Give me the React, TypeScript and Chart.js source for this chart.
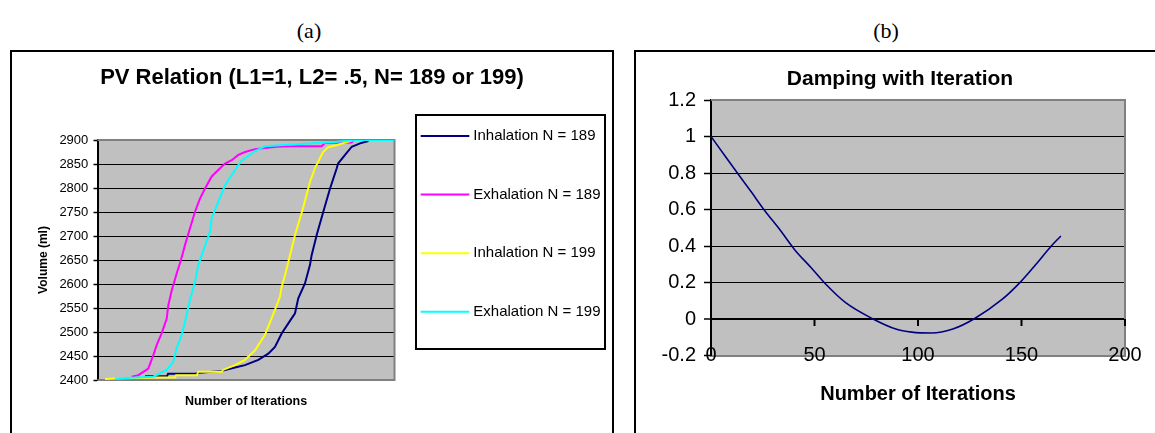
import React, { useEffect, useRef } from "react";
import { Chart, registerables } from "chart.js";

Chart.register(...registerables);

const SANS = "'Liberation Sans', Arial, sans-serif";
const SERIF = "'Liberation Serif', 'Times New Roman', serif";

// ---------- Chart (a): PV relation ----------
const pvTitle = "PV Relation (L1=1, L2= .5, N= 189 or 199)";
const pvXTitle = "Number of Iterations";
const pvYTitle = "Volume (ml)";
const seriesLabels = ["Inhalation N = 189", "Exhalation N = 189", "Inhalation N = 199", "Exhalation N = 199"];
const seriesColors = ["#000080", "#FF00FF", "#FFFF00", "#00FFFF"];
const volumeTicks = [2400, 2450, 2500, 2550, 2600, 2650, 2700, 2750, 2800, 2850, 2900];
const iterMin = 0;
const iterMax = 200;

const inh189X = [32.0, 46.8, 47.5, 65.7, 69.0, 83.8, 92.6, 99.3, 108.3, 115.0, 119.5, 124.0, 128.5, 133.0, 135.2, 139.7, 143.1, 144.2, 147.6, 152.1, 156.6, 161.1, 162.0, 166.7, 171.2, 176.8, 182.4];
const inh189Y = [2408, 2408, 2413, 2413, 2415, 2419, 2426, 2431, 2442, 2455, 2469, 2497, 2518, 2539, 2570, 2601, 2640, 2660, 2702, 2751, 2799, 2841, 2851, 2869, 2886, 2893, 2898];

const exh189X = [23.0, 27.5, 34.2, 37.6, 39.9, 43.2, 46.6, 47.7, 50.0, 53.3, 56.2, 58.9, 62.3, 65.7, 69.0, 72.4, 76.9, 82.5, 85.9, 90.4, 94.8, 99.3, 106.1, 120.7, 129.6, 151.0, 153.2, 171.2, 172.3];
const exh189Y = [2407, 2410, 2424, 2452, 2473, 2497, 2528, 2556, 2587, 2622, 2650, 2681, 2716, 2751, 2778, 2799, 2824, 2841, 2851, 2858, 2869, 2875, 2881, 2886, 2887, 2887, 2894, 2895, 2900];

const inh199X = [5.1, 11.8, 37.4, 52.2, 52.9, 67.0, 67.7, 83.8, 84.5, 92.6, 99.3, 106.1, 112.8, 115.0, 119.5, 122.9, 124.0, 126.3, 129.6, 133.0, 138.4, 143.1, 146.5, 151.9, 155.3, 162.0, 172.3];
const inh199Y = [2402, 2403, 2405, 2405, 2410, 2410, 2417, 2417, 2421, 2431, 2442, 2462, 2494, 2511, 2546, 2574, 2594, 2619, 2660, 2702, 2758, 2813, 2842, 2875, 2885, 2890, 2900];

const exh199X = [11.8, 37.6, 46.6, 51.0, 53.3, 56.7, 58.9, 62.3, 65.7, 67.9, 70.2, 72.4, 75.8, 76.9, 81.3, 85.9, 90.4, 94.8, 97.1, 106.1, 112.8, 128.3, 159.9, 173.4, 200.0];
const exh199Y = [2403, 2407, 2421, 2438, 2466, 2494, 2521, 2567, 2605, 2640, 2660, 2680, 2709, 2737, 2771, 2806, 2827, 2848, 2857, 2877, 2887, 2890, 2896, 2900, 2900];

// ---------- Chart (b): damping ----------
const dampTitle = "Damping with Iteration";
const dampXTitle = "Number of Iterations";
const dampX = [0, 6.7, 13.1, 19.6, 26.0, 33.2, 40.4, 48.4, 55.6, 65.2, 77.8, 89.3, 97.0, 106.6, 116.8, 127.0, 140.6, 149.1, 157.0, 164.4, 169.0];
const dampY = [1.0, 0.895, 0.795, 0.694, 0.593, 0.49, 0.38, 0.281, 0.189, 0.088, 0.003, -0.055, -0.072, -0.077, -0.055, 0.0, 0.107, 0.198, 0.3, 0.4, 0.455];
const dampYTicks = [-0.2, 0, 0.2, 0.4, 0.6, 0.8, 1, 1.2];
const dampXTicks = [0, 50, 100, 150, 200];

const zip = (xs: number[], ys: number[]) => xs.map((x, i) => ({ x, y: ys[i] }));

function makeFrame(sides: { top: boolean; right: boolean; bottom: boolean }) {
  return {
    id: "plotFrame",
    beforeDraw(chart: any) {
      const { ctx, chartArea: a } = chart;
      ctx.save();
      ctx.fillStyle = "#C0C0C0";
      ctx.fillRect(a.left, a.top, a.right - a.left, a.bottom - a.top);
      ctx.restore();
    },
    beforeDatasetsDraw(chart: any) {
      const { ctx, chartArea: a } = chart;
      ctx.save();
      ctx.strokeStyle = "#808080";
      ctx.lineWidth = 2;
      ctx.beginPath();
      if (sides.top) { ctx.moveTo(a.left, a.top); ctx.lineTo(a.right + 1, a.top); }
      if (sides.right) { ctx.moveTo(a.right, a.top); ctx.lineTo(a.right, a.bottom + 1); }
      if (sides.bottom) { ctx.moveTo(a.left, a.bottom); ctx.lineTo(a.right + 1, a.bottom); }
      ctx.stroke();
      ctx.restore();
    },
  };
}

const pvLegend = {
  id: "pvLegend",
  afterDraw(chart: any) {
    const ctx = chart.ctx;
    ctx.save();
    const x0 = 404, y0 = 63, w = 189, h = 234;
    ctx.fillStyle = "#fff";
    ctx.fillRect(x0, y0, w, h);
    ctx.strokeStyle = "#000";
    ctx.lineWidth = 2;
    ctx.strokeRect(x0, y0, w, h);
    chart.data.datasets.forEach((ds: any, i: number) => {
      const y = 84 + i * 58.6;
      ctx.strokeStyle = ds.borderColor;
      ctx.lineWidth = 2;
      ctx.beginPath();
      ctx.moveTo(408.7, y);
      ctx.lineTo(457.3, y);
      ctx.stroke();
      ctx.fillStyle = "#000";
      ctx.font = `15px ${SANS}`;
      ctx.textBaseline = "middle";
      ctx.textAlign = "left";
      ctx.fillText(ds.label, 461.3, y);
    });
    ctx.restore();
  },
};

const zeroAxisTicks = {
  id: "zeroAxisTicks",
  beforeDatasetsDraw(chart: any) {
    const { ctx } = chart;
    const xs = chart.scales.x;
    const ys = chart.scales.y;
    const y0 = ys.getPixelForValue(0);
    ctx.save();
    ctx.strokeStyle = "#000";
    ctx.lineWidth = 2;
    ctx.beginPath();
    dampXTicks.forEach((v) => {
      const px = xs.getPixelForValue(v);
      ctx.moveTo(px, y0);
      ctx.lineTo(px, y0 + 7);
    });
    ctx.stroke();
    ctx.restore();
  },
};

// an empty right-hand axis that only reserves room (keeps the title centred on the whole box)
const spacerAxis = (w: number) => ({
  type: "linear",
  position: "right",
  display: true,
  ticks: { display: false },
  grid: { display: false },
  border: { display: false },
  afterFit: (s: any) => { s.width = w; },
});

function PVChart() {
  const ref = useRef<HTMLCanvasElement>(null);
  useEffect(() => {
    const xs = [inh189X, exh189X, inh199X, exh199X];
    const ys = [inh189Y, exh189Y, inh199Y, exh199Y];
    const chart = new Chart(ref.current as HTMLCanvasElement, {
      type: "line",
      data: {
        datasets: xs.map((x, i) => ({
          label: seriesLabels[i],
          data: zip(x, ys[i]),
          borderColor: seriesColors[i],
          backgroundColor: seriesColors[i],
          borderWidth: 2,
          pointRadius: 0,
          fill: false,
          tension: 0,
          order: 3 - i,
          xAxisID: "x",
          yAxisID: "y",
        })),
      },
      options: {
        animation: false,
        responsive: false,
        devicePixelRatio: 1,
        layout: { padding: 0 },
        plugins: {
          legend: { display: false },
          tooltip: { enabled: false },
          title: {
            display: true,
            text: pvTitle,
            color: "#000",
            font: { family: SANS, size: 22, weight: "bold" },
            padding: { top: 12.8, bottom: 48.8 },
          },
        },
        scales: {
          x: {
            type: "linear",
            min: iterMin,
            max: iterMax,
            ticks: { display: false },
            grid: { display: false },
            border: { display: false },
            title: {
              display: true,
              text: pvXTitle,
              color: "#000",
              font: { family: SANS, size: 12.5, weight: "bold" },
              padding: { top: 0, bottom: 23.5 },
            },
            afterFit: (s: any) => { s.height = 53; },
          },
          y: {
            type: "linear",
            position: "left",
            min: volumeTicks[0],
            max: volumeTicks[volumeTicks.length - 1],
            afterBuildTicks: (s: any) => { s.ticks = volumeTicks.map((v) => ({ value: v })); },
            ticks: { color: "#000", font: { family: SANS, size: 13 }, padding: 5.2, callback: (v: any) => String(v) },
            grid: {
              color: (c: any) =>
                c.tick && (c.tick.value === volumeTicks[0] || c.tick.value === volumeTicks[volumeTicks.length - 1])
                  ? "rgba(0,0,0,0)"
                  : "#000",
              lineWidth: 1,
              tickLength: 4,
              tickColor: "#000",
              tickWidth: 1.5,
            },
            border: { color: "#000", width: 2 },
            title: {
              display: true,
              text: pvYTitle,
              color: "#000",
              font: { family: SANS, size: 12, weight: "bold" },
              padding: { top: 24.8, bottom: 0 },
            },
            afterFit: (s: any) => { s.width = 85.5; },
          },
          spacer: spacerAxis(217.5),
        },
      } as any,
      plugins: [makeFrame({ top: true, right: true, bottom: true }), pvLegend],
    });
    return () => chart.destroy();
  }, []);
  return (
    <canvas ref={ref} width={600} height={381} style={{ position: "absolute", left: 12, top: 52, width: 600, height: 381 }} />
  );
}

function DampChart() {
  const ref = useRef<HTMLCanvasElement>(null);
  useEffect(() => {
    const yMin = dampYTicks[0];
    const yMax = dampYTicks[dampYTicks.length - 1];
    const chart = new Chart(ref.current as HTMLCanvasElement, {
      type: "line",
      data: {
        datasets: [
          {
            label: dampTitle,
            data: zip(dampX, dampY),
            borderColor: "#000080",
            borderWidth: 1.6,
            pointRadius: 0,
            fill: false,
            cubicInterpolationMode: "monotone",
            xAxisID: "x",
            yAxisID: "y",
          },
        ],
      },
      options: {
        animation: false,
        responsive: false,
        devicePixelRatio: 1,
        layout: { padding: 0 },
        plugins: {
          legend: { display: false },
          tooltip: { enabled: false },
          title: {
            display: true,
            text: dampTitle,
            color: "#000",
            font: { family: SANS, size: 21, weight: "bold" },
            padding: { top: 14.4, bottom: 8.4 },
          },
        },
        scales: {
          x: {
            type: "linear",
            min: dampXTicks[0],
            max: dampXTicks[dampXTicks.length - 1],
            afterBuildTicks: (s: any) => { s.ticks = dampXTicks.map((v) => ({ value: v })); },
            ticks: { color: "#000", font: { family: SANS, size: 20 }, padding: -11.5, mirror: true, maxRotation: 0 },
            grid: { drawOnChartArea: false, drawTicks: false },
            border: { color: "#808080", width: 2 },
            title: {
              display: true,
              text: dampXTitle,
              color: "#000",
              font: { family: SANS, size: 20, weight: "bold" },
              padding: { top: 0, bottom: 27 },
            },
            afterFit: (s: any) => { s.height = 77.5; },
          },
          y: {
            type: "linear",
            position: "left",
            min: yMin,
            max: yMax,
            afterBuildTicks: (s: any) => { s.ticks = dampYTicks.map((v) => ({ value: v })); },
            ticks: { color: "#000", font: { family: SANS, size: 20 }, padding: 8, callback: (v: any) => String(v) },
            grid: {
              color: (c: any) =>
                c.tick && (Math.abs(c.tick.value - yMin) < 1e-9 || Math.abs(c.tick.value - yMax) < 1e-9)
                  ? "rgba(0,0,0,0)"
                  : "#000",
              lineWidth: (c: any) => (c.tick && Math.abs(c.tick.value) < 1e-9 ? 2 : 1),
              tickLength: 7,
              tickColor: "#000",
              tickWidth: 1.5,
            },
            border: { color: "#000", width: 2 },
            afterFit: (s: any) => { s.width = 75; },
          },
          spacer: spacerAxis(39),
        },
      } as any,
      plugins: [makeFrame({ top: true, right: true, bottom: false }), zeroAxisTicks],
    });
    return () => chart.destroy();
  }, []);
  return (
    <canvas ref={ref} width={528} height={381} style={{ position: "absolute", left: 636, top: 52, width: 528, height: 381 }} />
  );
}

export default function App() {
  const label: React.CSSProperties = {
    position: "absolute",
    top: 20,
    fontFamily: SERIF,
    fontSize: 22,
    lineHeight: "22px",
    transform: "translateX(-50%)",
    whiteSpace: "nowrap",
    color: "#000",
  };
  return (
    <div style={{ position: "absolute", left: 0, top: 0, width: 1155, height: 433, overflow: "hidden", background: "#fff" }}>
      <div style={{ ...label, left: 309 }}>(a)</div>
      <div style={{ ...label, left: 886 }}>(b)</div>
      <div style={{ position: "absolute", left: 10, top: 50, width: 604, height: 420, border: "2px solid #000", boxSizing: "border-box" }} />
      <div style={{ position: "absolute", left: 634, top: 50, width: 560, height: 420, border: "2px solid #000", boxSizing: "border-box" }} />
      <PVChart />
      <DampChart />
    </div>
  );
}
